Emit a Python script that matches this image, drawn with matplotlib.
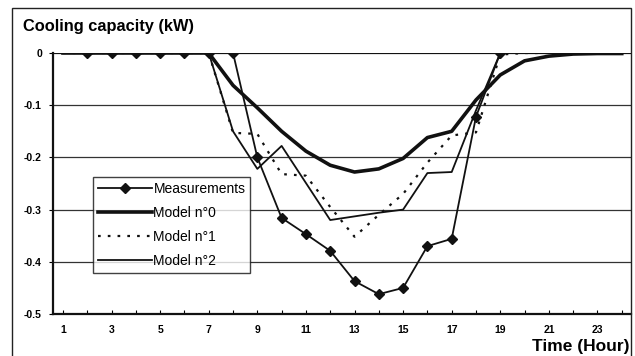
import numpy as np
import matplotlib.pyplot as plt
from matplotlib.patches import Rectangle

plt.rcParams['font.family'] = ['Liberation Sans', 'DejaVu Sans']

hours = np.arange(1, 25)
nan = np.nan
measurements = [nan, 0, 0, 0, 0, 0, 0, 0, -0.200, -0.316, -0.347, -0.379, -0.437,
                -0.462, -0.450, -0.370, -0.356, -0.122, 0.0, nan, nan, nan, nan, nan]
model0 = [0, 0, 0, 0, 0, 0, 0, -0.062, -0.105, -0.150, -0.188, -0.215, -0.228,
          -0.222, -0.202, -0.162, -0.150, -0.090, -0.042, -0.015, -0.006, -0.002, -0.001, -0.001]
model1 = [0, 0, 0, 0, 0, 0, 0, -0.153, -0.155, -0.232, -0.235, -0.295, -0.352,
          -0.310, -0.270, -0.210, -0.158, -0.152, -0.003, 0, 0, 0, 0, 0]
model2 = [0, 0, 0, 0, 0, 0, 0, -0.150, -0.222, -0.178, -0.249, -0.320, -0.313,
          -0.306, -0.300, -0.230, -0.228, -0.110, 0.0, 0, 0, 0, 0, 0]
yticks = [0, -0.1, -0.2, -0.3, -0.4, -0.5]
xlabels = [1, 3, 5, 7, 9, 11, 13, 15, 17, 19, 21, 23]

fig = plt.figure(figsize=(6.35, 3.56), dpi=100)
ax = fig.add_axes([53/635, 42/356, 578/635, 261/356])

for y in yticks[1:-1]:
    ax.axhline(y, color='#333333', lw=0.9, zorder=1)
ax.axhline(0, color='#111111', lw=1.6, zorder=1)

ax.plot(hours, model0, color='#111111', lw=2.6, label='Model n°0', zorder=3)
ax.plot(hours, model1, color='#111111', lw=1.6, linestyle=(0, (1.2, 3.2)), label='Model n°1', zorder=3)
ax.plot(hours, model2, color='#111111', lw=1.3, label='Model n°2', zorder=3)
ax.plot(hours, measurements, color='#111111', lw=1.3, marker='D', ms=5.5,
        label='Measurements', zorder=4)

ax.set_xlim(0.59, 24.38)
ax.set_ylim(-0.5, 0)
ax.set_xticks(hours, minor=True)
ax.set_xticks(xlabels)
ax.set_xticklabels([str(v) for v in xlabels], fontsize=7.5, fontweight='bold')
ax.set_yticks(yticks)
ax.set_yticklabels(['0', '-0.1', '-0.2', '-0.3', '-0.4', '-0.5'], fontsize=7.5, fontweight='bold')
ax.tick_params(axis='x', which='both', length=3, direction='in', pad=8, width=0.8)
ax.tick_params(axis='y', length=3, direction='out', pad=5, width=0.8)

for s in ['top', 'right']:
    ax.spines[s].set_visible(False)
for s in ['left', 'bottom']:
    ax.spines[s].set_linewidth(1.6)
    ax.spines[s].set_color('#111111')

h, l = ax.get_legend_handles_labels()
order = [3, 0, 1, 2]
leg = ax.legend([h[i] for i in order], [l[i] for i in order], loc='upper left',
                bbox_to_anchor=(40/578, (314-177)/261), fontsize=10, frameon=True,
                fancybox=False, edgecolor='#111111', handlelength=3.9,
                handletextpad=0.1, borderpad=0.35, labelspacing=0.72, borderaxespad=0)
leg.get_frame().set_linewidth(1.0)

fig.text(23/635, 1 - 27/356, 'Cooling capacity (kW)', fontsize=11.8, fontweight='bold',
         va='center', ha='left')
fig.text(630/635, 1 - 346/356, 'Time (Hour)', fontsize=12.5, fontweight='bold',
         va='center', ha='right')

fig.patches.append(Rectangle((12/635, -0.1), 619/635, 1.1 - 8/356, transform=fig.transFigure,
                             fill=False, lw=1.0, edgecolor='#222222'))

fig.savefig('out.png', dpi=100)
